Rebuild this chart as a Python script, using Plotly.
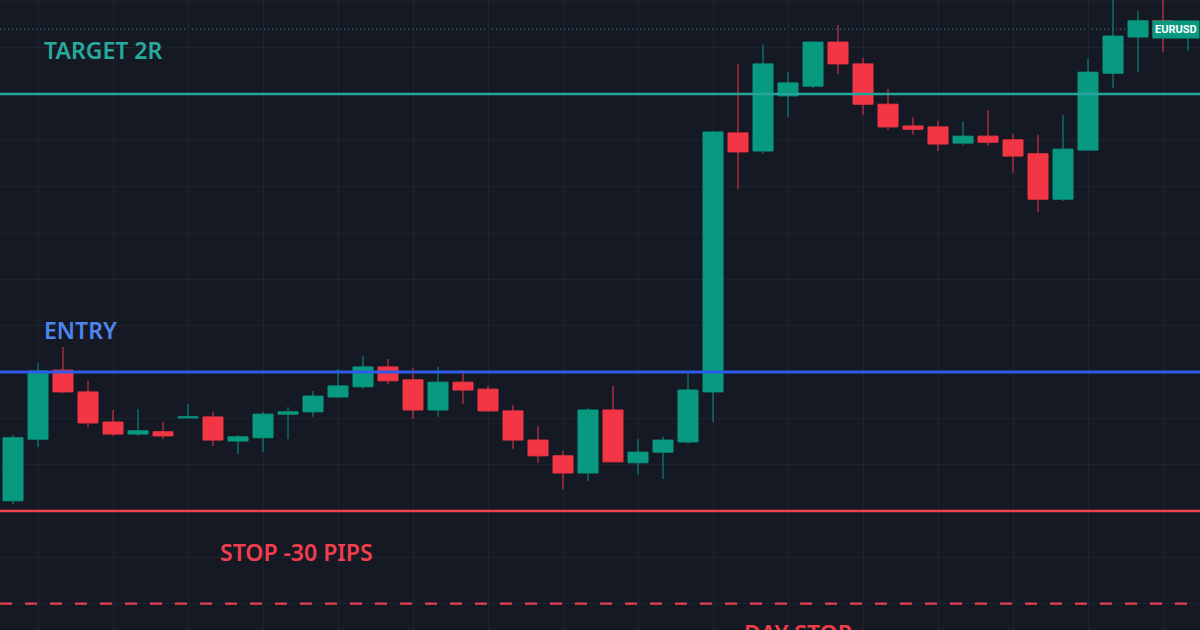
import plotly.graph_objects as go

# ---- data (EURUSD candles) ----
opens = [1.08222, 1.08355, 1.08504, 1.08457, 1.08392, 1.08366, 1.08371, 1.08401,
         1.08403, 1.08351, 1.08358, 1.08409, 1.08414, 1.08446, 1.08468, 1.08511,
         1.08483, 1.08418, 1.08478, 1.08463, 1.08416, 1.08353, 1.08319, 1.08282,
         1.08418, 1.08304, 1.08327, 1.08349, 1.08457, 1.09016, 1.08977, 1.09096,
         1.09117, 1.09212, 1.09165, 1.09078, 1.09031, 1.09029, 1.08994, 1.09009,
         1.09001, 1.08971, 1.08873, 1.08979, 1.09145, 1.09223, 1.09258, 1.09223]
highs = [1.08364, 1.08519, 1.08554, 1.08481, 1.08418, 1.08420, 1.08392, 1.08431,
         1.08414, 1.08364, 1.08414, 1.08424, 1.08459, 1.08506, 1.08535, 1.08528,
         1.08509, 1.08511, 1.08504, 1.08470, 1.08429, 1.08383, 1.08330, 1.08422,
         1.08470, 1.08355, 1.08360, 1.08498, 1.09020, 1.09165, 1.09206, 1.09147,
         1.09214, 1.09249, 1.09178, 1.09111, 1.09050, 1.09042, 1.09040, 1.09065,
         1.09014, 1.09012, 1.09055, 1.09176, 1.09309, 1.09279, 1.09309, 1.09258]
lows = [1.08215, 1.08338, 1.08455, 1.08381, 1.08362, 1.08362, 1.08355, 1.08400,
        1.08340, 1.08323, 1.08327, 1.08355, 1.08403, 1.08444, 1.08463, 1.08474,
        1.08399, 1.08403, 1.08431, 1.08414, 1.08334, 1.08304, 1.08247, 1.08265,
        1.08305, 1.08278, 1.08269, 1.08345, 1.08392, 1.08895, 1.08971, 1.09050,
        1.09113, 1.09143, 1.09055, 1.09022, 1.09012, 1.08977, 1.08990, 1.08988,
        1.08930, 1.08845, 1.08869, 1.08978, 1.09113, 1.09147, 1.09191, 1.09193]
closes = [1.08358, 1.08502, 1.08457, 1.08390, 1.08366, 1.08373, 1.08362, 1.08403,
          1.08353, 1.08360, 1.08409, 1.08414, 1.08448, 1.08470, 1.08511, 1.08481,
          1.08418, 1.08478, 1.08461, 1.08416, 1.08353, 1.08319, 1.08282, 1.08418,
          1.08306, 1.08327, 1.08353, 1.08461, 1.09018, 1.08975, 1.09165, 1.09124,
          1.09212, 1.09165, 1.09078, 1.09029, 1.09024, 1.08992, 1.09009, 1.08996,
          1.08966, 1.08873, 1.08981, 1.09147, 1.09225, 1.09258, 1.09223, 1.09240]
bar_index = list(range(len(opens)))

# trade levels
level_names = ["TARGET 2R", "ENTRY", "STOP -30 PIPS", "DAY STOP"]
level_prices = [1.0910, 1.0850, 1.0820, 1.0800]
level_colors = ["#26a69a", "#2f5bea", "#f0434f", "#e0434f"]
level_text_colors = ["#27a99b", "#4d85f0", "#f23d4c", "#f23d4c"]
level_widths = [2.4, 2.8, 2.4, 2.4]
level_dash = ["solid", "solid", "solid", "dash"]
symbol = "EURUSD"

UP = "#089981"
DOWN = "#f23645"
BG = "#151924"
GRID = "#1f2330"

fig = go.Figure()
fig.add_trace(go.Candlestick(
    x=bar_index, open=opens, high=highs, low=lows, close=closes,
    increasing=dict(line=dict(color=UP, width=1), fillcolor=UP),
    decreasing=dict(line=dict(color=DOWN, width=1), fillcolor=DOWN),
    whiskerwidth=0, showlegend=False, hoverinfo="skip",
))

# horizontal level lines
for price, col, w, dash in zip(level_prices, level_colors, level_widths, level_dash):
    fig.add_shape(type="line", xref="paper", x0=0, x1=1, yref="y", y0=price, y1=price,
                  line=dict(color=col, width=w, dash="12px,13px" if dash == "dash" else "solid"),
                  layer="above")

# last price dotted line
fig.add_shape(type="line", xref="paper", x0=0, x1=1, yref="y", y0=closes[-1], y1=closes[-1],
              line=dict(color="#2a8f83", width=1, dash="1px,3px"), layer="below")

# level labels (pixel offset from their level line; positive = above)
label_x = [42, 42, 218, 742]
label_shift = [44, 42, -41, -29]
for name, price, col, lx, sh in zip(level_names, level_prices, level_text_colors, label_x, label_shift):
    fig.add_annotation(text=name, xref="paper", x=lx / 1200, xanchor="left",
                       yref="y", y=price, yanchor="middle", yshift=sh,
                       showarrow=False,
                       font=dict(family="Noto Sans", size=23, color=col, weight=600))

# symbol label
fig.add_annotation(text="<b>" + symbol + "</b>", xref="paper", x=1, xanchor="right",
                   yref="y", y=closes[-1], yanchor="middle", showarrow=False,
                   bgcolor=UP, borderpad=2,
                   font=dict(family="Roboto", size=11, color="#ffffff"))

fig.update_layout(
    width=1200, height=630,
    margin=dict(l=0, r=0, t=0, b=0),
    paper_bgcolor=BG, plot_bgcolor=BG,
    boxgap=0.2, boxgroupgap=0,
    xaxis=dict(range=[-0.52, 47.48], showticklabels=False, showgrid=True, gridcolor=GRID,
               gridwidth=1, tick0=1, dtick=3, zeroline=False, rangeslider=dict(visible=False),
               fixedrange=True),
    yaxis=dict(range=[1.079431, 1.093029], showticklabels=False, showgrid=True, gridcolor=GRID,
               gridwidth=1, tick0=1.085, dtick=0.001, zeroline=False, fixedrange=True),
)

fig.write_html("out.html", config={"displayModeBar": False},
               post_script="document.body.style.margin='0';document.body.style.background='#151924';")
